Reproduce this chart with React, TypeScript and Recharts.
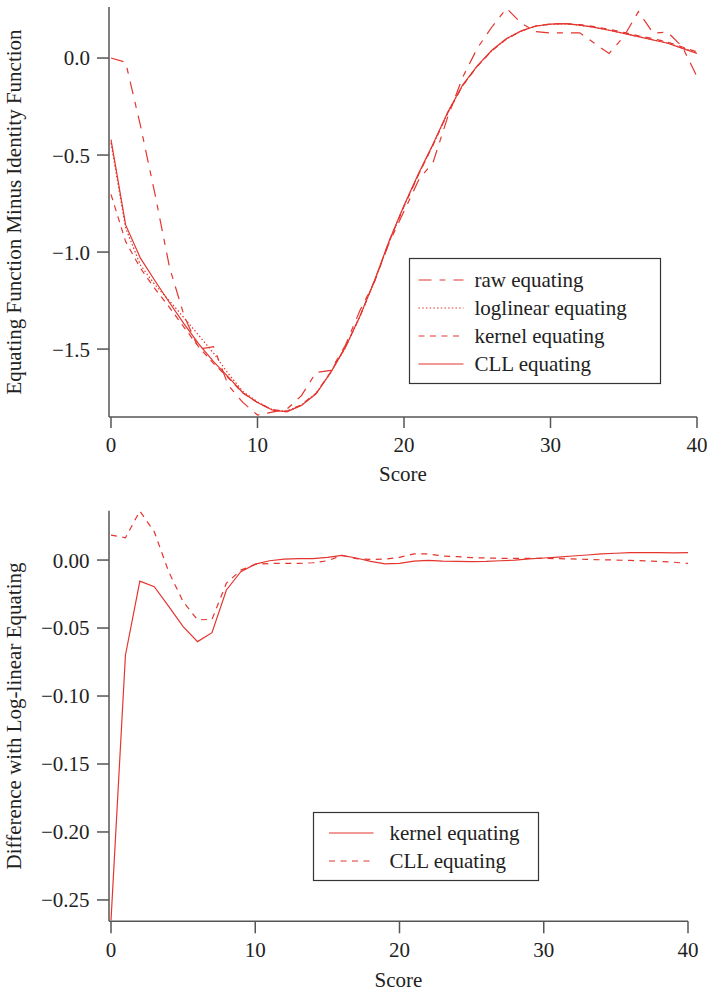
import React from 'react';
import { LineChart, Line, XAxis, YAxis, Legend, Label } from 'recharts';

const scores = [0, 1, 2, 3, 4, 5, 6, 7, 8, 9, 10, 11, 12, 13, 14, 15, 16, 17, 18, 19, 20, 21, 22, 23, 24, 25, 26, 27, 28, 29, 30, 31, 32, 33, 34, 35, 36, 37, 38, 39, 40];

const rawEquating = [0.0, -0.022, -0.345, -0.7, -1.08, -1.33, -1.5, -1.487, -1.686, -1.775, -1.84, -1.825, -1.81, -1.74, -1.62, -1.61, -1.48, -1.3, -1.15, -0.95, -0.79, -0.629, -0.534, -0.3, -0.1, 0.05, 0.16, 0.256, 0.18, 0.136, 0.129, 0.13, 0.13, 0.076, 0.024, 0.11, 0.239, 0.129, 0.133, 0.058, -0.096];

const loglinearEquating = [-0.438, -0.876, -1.066, -1.169, -1.252, -1.34, -1.43, -1.521, -1.626, -1.718, -1.772, -1.812, -1.821, -1.788, -1.728, -1.62, -1.493, -1.331, -1.146, -0.941, -0.762, -0.599, -0.445, -0.28, -0.142, -0.042, 0.039, 0.099, 0.139, 0.164, 0.174, 0.176, 0.169, 0.158, 0.143, 0.127, 0.11, 0.094, 0.077, 0.052, 0.027];

const kernelEquating = [-0.703, -0.946, -1.082, -1.189, -1.286, -1.389, -1.49, -1.574, -1.648, -1.727, -1.775, -1.813, -1.82, -1.787, -1.727, -1.618, -1.49, -1.33, -1.147, -0.944, -0.765, -0.6, -0.445, -0.281, -0.143, -0.043, 0.038, 0.098, 0.139, 0.165, 0.176, 0.178, 0.172, 0.162, 0.148, 0.132, 0.115, 0.1, 0.082, 0.057, 0.032];

const cllEquating = [-0.42, -0.86, -1.03, -1.148, -1.261, -1.371, -1.474, -1.565, -1.643, -1.725, -1.775, -1.814, -1.823, -1.79, -1.73, -1.62, -1.49, -1.33, -1.145, -0.94, -0.76, -0.594, -0.44, -0.277, -0.139, -0.04, 0.04, 0.1, 0.14, 0.165, 0.175, 0.177, 0.17, 0.158, 0.143, 0.127, 0.11, 0.093, 0.076, 0.05, 0.024];

const kernelDiff = [-0.265, -0.07, -0.0155, -0.0196, -0.034, -0.049, -0.06, -0.0534, -0.022, -0.0086, -0.003, -0.0005, 0.0007, 0.001, 0.001, 0.002, 0.0034, 0.0015, -0.001, -0.0028, -0.0025, -0.0008, -0.0003, -0.0008, -0.001, -0.0012, -0.001, -0.0005, 0.0, 0.0008, 0.0015, 0.0022, 0.003, 0.0037, 0.0045, 0.005, 0.0054, 0.0055, 0.0054, 0.0053, 0.0054];

const cllDiff = [0.0184, 0.0164, 0.036, 0.0208, -0.0086, -0.0306, -0.044, -0.0436, -0.017, -0.0074, -0.0032, -0.0025, -0.0025, -0.0025, -0.002, -0.0005, 0.0034, 0.001, 0.0005, 0.0007, 0.002, 0.0045, 0.0045, 0.003, 0.0025, 0.0018, 0.0015, 0.0013, 0.0012, 0.0012, 0.0012, 0.001, 0.0008, 0.0005, 0.0002, 0.0, -0.0003, -0.0006, -0.001, -0.0016, -0.0025];

const xTicks = [0, 10, 20, 30, 40];
const topYTicks = [-1.5, -1.0, -0.5, 0.0];
const bottomYTicks = [-0.25, -0.2, -0.15, -0.1, -0.05, 0.0];

const topLegendLabels = ['raw equating', 'loglinear equating', 'kernel equating', 'CLL equating'];
const bottomLegendLabels = ['kernel equating', 'CLL equating'];

const topData = scores.map((s, i) => ({
  score: s,
  raw: rawEquating[i],
  loglinear: loglinearEquating[i],
  kernel: kernelEquating[i],
  cll: cllEquating[i],
}));

const bottomData = scores.map((s, i) => ({
  score: s,
  kernel: kernelDiff[i],
  cll: cllDiff[i],
}));

const FONT = '"Liberation Serif", "Times New Roman", "DejaVu Serif", serif';
const RED = '#e4352f';
const AXIS = '#555555';
const TEXT = '#222222';
const FS = 21;

const DASH_RAW = '13 8 6 8';
const DASH_DOT = '1.5 2.2';
const DASH_KERNEL = '6 5.5';

const fmt = (digits: number) => (v: number) => v.toFixed(digits).replace('-', '\u2212');

const tickStyle = { fill: TEXT, fontSize: FS, fontFamily: FONT };

const makeYLabel = (text: string, cx: number, cy: number) => () => (
  <text
    x={cx}
    y={cy}
    transform={`rotate(-90 ${cx} ${cy})`}
    textAnchor="middle"
    fontFamily={FONT}
    fontSize={FS}
    fill={TEXT}
  >
    {text}
  </text>
);

const makeXLabel = (text: string, cx: number, baseline: number) => () => (
  <text x={cx} y={baseline} textAnchor="middle" fontFamily={FONT} fontSize={FS} fill={TEXT}>
    {text}
  </text>
);

type LegendItem = { label: string; dash?: string };

const LegendBox = ({
  items,
  w,
  h,
  x1,
  x2,
  tx,
  rows,
}: {
  items: LegendItem[];
  w: number;
  h: number;
  x1: number;
  x2: number;
  tx: number;
  rows: number[];
}) => (
  <svg width={w} height={h} style={{ display: 'block', overflow: 'visible' }}>
    <rect x={0.5} y={0.5} width={w - 1} height={h - 1} fill="#ffffff" stroke="#333333" strokeWidth={1.2} />
    {items.map((it, i) => (
      <g key={it.label}>
        <line x1={x1} x2={x2} y1={rows[i]} y2={rows[i]} stroke={RED} strokeWidth={1.2} strokeDasharray={it.dash} />
        <text x={tx} y={rows[i] + 6.5} fontFamily={FONT} fontSize={FS} fill={TEXT}>
          {it.label}
        </text>
      </g>
    ))}
  </svg>
);

const topLegendItems: LegendItem[] = [
  { label: topLegendLabels[0], dash: DASH_RAW },
  { label: topLegendLabels[1], dash: DASH_DOT },
  { label: topLegendLabels[2], dash: DASH_KERNEL },
  { label: topLegendLabels[3] },
];

const bottomLegendItems: LegendItem[] = [
  { label: bottomLegendLabels[0] },
  { label: bottomLegendLabels[1], dash: DASH_KERNEL },
];

export default function App() {
  return (
    <div style={{ position: 'absolute', left: 0, top: 0, width: 707, height: 993, background: '#ffffff' }}>
      <div style={{ position: 'absolute', left: 0, top: 0 }}>
        <LineChart width={707} height={490} data={topData} margin={{ top: 7, right: 10, bottom: 13, left: 0 }}>
          <XAxis
            dataKey="score"
            type="number"
            domain={[-0.136, 40]}
            ticks={xTicks}
            allowDataOverflow
            interval={0}
            height={60}
            tickSize={11}
            tickMargin={9}
            tick={tickStyle}
            axisLine={{ stroke: AXIS, strokeWidth: 1.5 }}
            tickLine={{ stroke: AXIS, strokeWidth: 1.5 }}
          >
            <Label content={makeXLabel('Score', 403, 480.5)} />
          </XAxis>
          <YAxis
            type="number"
            domain={[-1.85, 0.263]}
            ticks={topYTicks}
            allowDataOverflow
            interval={0}
            width={109}
            tickSize={12}
            tickMargin={7}
            tick={tickStyle}
            tickFormatter={fmt(1)}
            axisLine={{ stroke: AXIS, strokeWidth: 1.5 }}
            tickLine={{ stroke: AXIS, strokeWidth: 1.5 }}
          >
            <Label content={makeYLabel('Equating Function Minus Identity Function', 21.2, 212)} />
          </YAxis>
          <Line dataKey="raw" type="linear" stroke={RED} strokeWidth={1.2} strokeDasharray={DASH_RAW} dot={false} isAnimationActive={false} />
          <Line dataKey="loglinear" type="linear" stroke={RED} strokeWidth={1.2} strokeDasharray={DASH_DOT} dot={false} isAnimationActive={false} />
          <Line dataKey="kernel" type="linear" stroke={RED} strokeWidth={1.2} strokeDasharray={DASH_KERNEL} dot={false} isAnimationActive={false} />
          <Line dataKey="cll" type="linear" stroke={RED} strokeWidth={1.2} dot={false} isAnimationActive={false} />
          <Legend
            layout="vertical"
            align="center"
            verticalAlign="middle"
            wrapperStyle={{ left: 409, top: 258, width: 252, height: 126 }}
            content={() => (
              <LegendBox items={topLegendItems} w={252} h={126} x1={9.5} x2={54.5} tx={65.5} rows={[22, 50, 78, 106]} />
            )}
          />
        </LineChart>
      </div>
      <div style={{ position: 'absolute', left: 0, top: 490 }}>
        <LineChart width={707} height={503} data={bottomData} margin={{ top: 20.7, right: 19, bottom: 11.7, left: 0 }}>
          <XAxis
            dataKey="score"
            type="number"
            domain={[-0.139, 40]}
            ticks={xTicks}
            allowDataOverflow
            interval={0}
            height={60}
            tickSize={12}
            tickMargin={8.5}
            tick={tickStyle}
            axisLine={{ stroke: AXIS, strokeWidth: 1.5 }}
            tickLine={{ stroke: AXIS, strokeWidth: 1.5 }}
          >
            <Label content={makeXLabel('Score', 398.5, 496.5)} />
          </XAxis>
          <YAxis
            type="number"
            domain={[-0.2657, 0.0363]}
            ticks={bottomYTicks}
            allowDataOverflow
            interval={0}
            width={109}
            tickSize={12}
            tickMargin={7.5}
            tick={tickStyle}
            tickFormatter={fmt(2)}
            axisLine={{ stroke: AXIS, strokeWidth: 1.5 }}
            tickLine={{ stroke: AXIS, strokeWidth: 1.5 }}
          >
            <Label content={makeYLabel('Difference with Log-linear Equating', 21.2, 226)} />
          </YAxis>
          <Line dataKey="kernel" type="linear" stroke={RED} strokeWidth={1.2} dot={false} isAnimationActive={false} />
          <Line dataKey="cll" type="linear" stroke={RED} strokeWidth={1.2} strokeDasharray={DASH_KERNEL} dot={false} isAnimationActive={false} />
          <Legend
            layout="vertical"
            align="center"
            verticalAlign="middle"
            wrapperStyle={{ left: 313, top: 321.7, width: 226, height: 69 }}
            content={() => (
              <LegendBox items={bottomLegendItems} w={226} h={69} x1={16} x2={60.5} tx={76.5} rows={[21, 49]} />
            )}
          />
        </LineChart>
      </div>
    </div>
  );
}
